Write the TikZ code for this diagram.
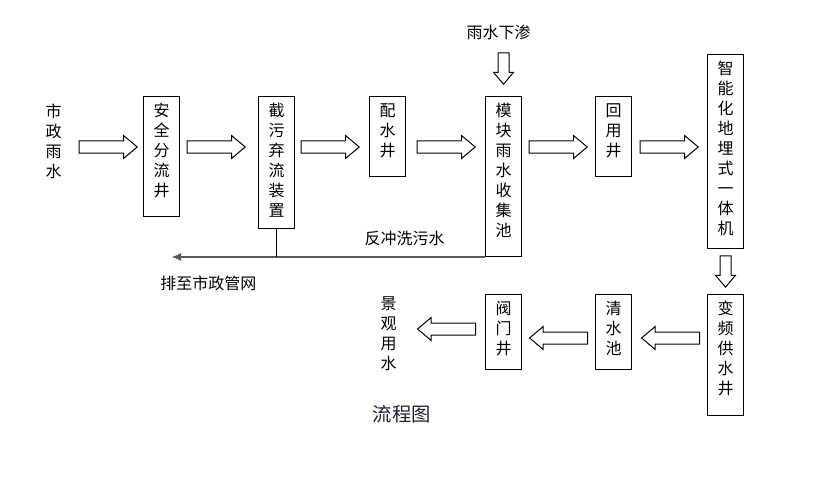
\documentclass[tikz,border=0pt]{standalone}
\usepackage{fontspec}
\newfontfamily\cjk{Noto Sans CJK SC}
\usepackage{tikz}
\usetikzlibrary{shapes,arrows.meta,positioning}
\tikzstyle{well} = [rectangle, draw, line width=0.75pt, align=center,
    minimum width=27pt, inner xsep=2pt, inner ysep=5.25pt,
    anchor=north west, font=\cjk\fontsize{12pt}{15pt}\selectfont]
\tikzstyle{fatarrow} = [single arrow, draw, line width=0.75pt, minimum height=43.5pt,
    inner sep=4.125pt, single arrow head extend=4.125pt,
    single arrow tip angle=80, single arrow head indent=0pt]
\tikzstyle{droparrow} = [single arrow, draw, line width=0.75pt, minimum height=23.5pt,
    inner sep=3.75pt, single arrow head extend=3.4pt, shape border rotate=270,
    single arrow tip angle=80, single arrow head indent=0pt]
\tikzstyle{flowtext} = [inner sep=0pt, align=center,
    font=\cjk\fontsize{12pt}{15pt}\selectfont]
\tikzstyle{charttitle} = [inner sep=0pt, text={rgb,255:red,30;green,32;blue,58},
    font=\cjk\fontsize{14.5pt}{16pt}\selectfont]
\tikzstyle{drain} = [draw=black!65, line width=1.5pt, -{Latex[length=7.5pt,width=6pt]}]
\tikzstyle{thinline} = [draw, line width=0.75pt]

\begin{document}
\begin{tikzpicture}[x=0.75pt, y=-0.75pt]
    \useasboundingbox (0,0) rectangle (816,481);
    % top row
    \node[well, text height=70pt, text depth=9.5pt] (safe) at (143,96) {安\\全\\分\\流\\井};
    \node[well, text height=85pt, text depth=3.5pt, right=58.5pt of safe.north east, anchor=north west] (sewer) {截\\污\\弃\\流\\装\\置};
    \node[well, text height=40pt, text depth=9.5pt, right=55.5pt of sewer.north east, anchor=north west] (distrib) {配\\水\\井};
    \node[well, text height=100pt, text depth=9.5pt, right=59.25pt of distrib.north east, anchor=north west] (pool) {模\\块\\雨\\水\\收\\集\\池};
    \node[well, text height=40pt, text depth=9.5pt, right=54.75pt of pool.north east, anchor=north west] (reuse) {回\\用\\井};
    \node[well, text height=130pt, text depth=5pt, right=56.25pt of reuse.north east, anchor=north west, yshift=31.5pt] (machine) {智\\能\\化\\地\\埋\\式\\一\\体\\机};

    % bottom row
    \node[well, text height=70pt, text depth=10.25pt, below=33.75pt of machine.south west, anchor=north west] (supply) {变\\频\\供\\水\\井};
    \node[well, text height=40pt, text depth=5.75pt, left=56.25pt of supply.north west, anchor=north east] (clear) {清\\水\\池};
    \node[well, text height=40pt, text depth=5.75pt, left=54.75pt of clear.north west, anchor=north east] (valve) {阀\\门\\井};

    \node[flowtext, left=60.75pt of safe.north west, anchor=north east, yshift=-6pt] (inflow) {市\\政\\雨\\水};
    \node[flowtext, left=66pt of valve.north west, anchor=north east, yshift=-1.5pt] (landscape) {景\\观\\用\\水};

    % block arrows
    \node[fatarrow, left=3.75pt of safe.north west, anchor=tip, yshift=-38.25pt] (a1) {};
    \node[fatarrow, left=9pt of sewer.north west, anchor=tip, yshift=-38.25pt] (a2) {};
    \node[fatarrow, left=6.75pt of distrib.north west, anchor=tip, yshift=-38.25pt] (a3) {};
    \node[fatarrow, left=6.75pt of pool.north west, anchor=tip, yshift=-38.25pt] (a4) {};
    \node[fatarrow, left=5.25pt of reuse.north west, anchor=tip, yshift=-38.25pt] (a5) {};
    \node[fatarrow, left=6pt of machine.north west, anchor=tip, yshift=-69.75pt] (a6) {};

    \node[fatarrow, shape border rotate=180, left=5.25pt of supply.north west, anchor=tail, yshift=-33pt] (b1) {};
    \node[fatarrow, shape border rotate=180, left=5.25pt of clear.north west, anchor=tail, yshift=-33pt] (b2) {};
    \node[fatarrow, shape border rotate=180, left=6.75pt of valve.north west, anchor=tail, yshift=-26.25pt] (b3) {};

    \node[droparrow, above=8.25pt of pool, anchor=tip] (d1) {};
    \node[droparrow, above=4.5pt of supply, anchor=tip] (d2) {};
    \node[flowtext, above=9pt of d1.tail, xshift=-3.75pt] (seep) {雨水下渗};

    % backwash line
    \coordinate[left=235.5pt of pool.south west] (outlet);
    \path[drain] (pool.south west) -- (outlet);
    \path[thinline] (sewer.south) -- (sewer.south |- outlet);
    \node[flowtext, left=30pt of pool.south west, anchor=south east, yshift=8.25pt] (backwash) {反冲洗污水};
    \node[flowtext, below=14.25pt of outlet, anchor=north west, xshift=-8.25pt] (discharge) {排至市政管网};

    \node[charttitle, below=26pt of landscape, xshift=9.75pt] (caption) {流程图};
\end{tikzpicture}
\end{document}
